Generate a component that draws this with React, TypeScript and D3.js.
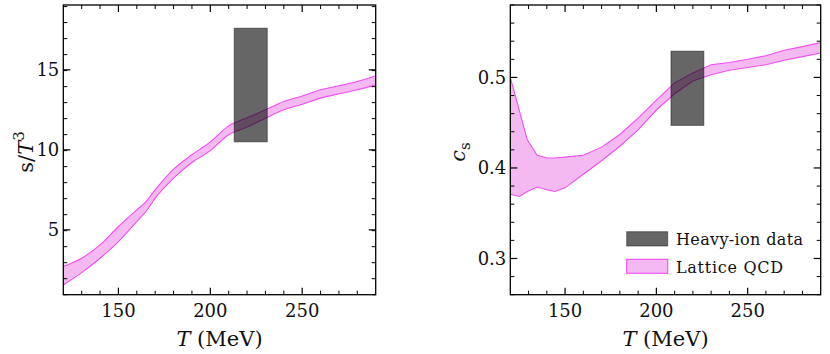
import * as d3 from "d3";

// temperature grid (MeV) for the entropy band
const entropyT = [120, 130, 140, 150, 160, 165, 170, 180, 190, 200, 210, 220, 230, 240, 250, 260, 270, 280, 290];
const entropyUpper = [2.71, 3.23, 4.06, 5.21, 6.25, 6.77, 7.5, 8.79, 9.69, 10.5, 11.5, 12.0, 12.5, 13.02, 13.37, 13.75, 14.0, 14.27, 14.63];
const entropyLower = [1.56, 2.33, 3.23, 4.27, 5.52, 6.15, 6.98, 8.23, 9.21, 9.95, 10.94, 11.42, 11.98, 12.5, 12.85, 13.23, 13.5, 13.75, 14.06];

// speed of sound band
const soundT = [120, 125, 129.3, 134.7, 140, 144.4, 150, 160, 170, 180, 190, 200, 210, 220, 230, 240, 250, 260, 270, 280, 290];
const soundUpper = [0.5, 0.463, 0.431, 0.414, 0.411, 0.411, 0.412, 0.414, 0.423, 0.437, 0.455, 0.475, 0.494, 0.505, 0.514, 0.5165, 0.52, 0.524, 0.53, 0.534, 0.5386];
const soundLower = [0.371, 0.3685, 0.374, 0.379, 0.376, 0.374, 0.378, 0.393, 0.408, 0.424, 0.442, 0.464, 0.482, 0.496, 0.503, 0.508, 0.511, 0.514, 0.519, 0.523, 0.527];

// heavy-ion boxes: [Tmin, Tmax] and [low, high]
const heavyIonEntropyT = [213, 231];
const heavyIonEntropy = [10.5, 17.6];
const heavyIonSoundT = [208, 226];
const heavyIonSound = [0.447, 0.529];

const xTicks = [150, 200, 250];
const entropyTicks = [5, 10, 15];
const soundTicks = [0.3, 0.4, 0.5];
const legendLabels = ["Heavy-ion data", "Lattice QCD"];

const font = "'DejaVu Serif', serif";
const bandFill = "#f5b9f1";
const bandStroke = "#f04ef0";

type PanelProps = {
  left: number;
  right: number;
  yDomain: [number, number];
  temps: number[];
  upper: number[];
  lower: number[];
  boxT: number[];
  boxY: number[];
  yTicks: number[];
  yMinorStep: number;
  yFormat: (v: number) => string;
  curve: d3.CurveFactory;
  children?: React.ReactNode;
};

const top = 5;
const bottom = 294.7;

function Panel(props: PanelProps) {
  const { left, right, yDomain, temps, upper, lower, boxT, boxY, yTicks, yMinorStep, yFormat, curve } = props;
  const x = d3.scaleLinear().domain([120, 290]).range([left, right]);
  const y = d3.scaleLinear().domain(yDomain).range([bottom, top]);

  const rows = temps.map((t, i) => ({ t, hi: upper[i], lo: lower[i] }));
  const area = d3.area<any>().x((d) => x(d.t)).y0((d) => y(d.lo)).y1((d) => y(d.hi)).curve(curve);
  const upLine = d3.line<any>().x((d) => x(d.t)).y((d) => y(d.hi)).curve(curve);
  const loLine = d3.line<any>().x((d) => x(d.t)).y((d) => y(d.lo)).curve(curve);

  const xMinor = d3.range(130, 290, 10).filter((v) => v % 50 !== 0);
  const nMinor = Math.round((yDomain[1] - yDomain[0]) / yMinorStep);
  const yMinor = d3.range(0, nMinor + 1)
    .map((i) => yDomain[0] + i * yMinorStep)
    .filter((v) => !yTicks.some((t) => Math.abs(t - v) < 1e-6));

  const major = 7;
  const minor = 4;

  return (
    <g>
      <defs>
        <clipPath id={`clip-${left}`}>
          <rect x={left} y={top} width={right - left} height={bottom - top} />
        </clipPath>
      </defs>
      <g clipPath={`url(#clip-${left})`}>
        <path d={area(rows) ?? ""} fill={bandFill} stroke="none" />
        <path d={upLine(rows) ?? ""} fill="none" stroke={bandStroke} strokeWidth={1.1} />
        <path d={loLine(rows) ?? ""} fill="none" stroke={bandStroke} strokeWidth={1.1} />
        <rect
          x={x(boxT[0])}
          y={y(boxY[1])}
          width={x(boxT[1]) - x(boxT[0])}
          height={y(boxY[0]) - y(boxY[1])}
          fill="#000"
          fillOpacity={0.6}
          stroke="#000"
          strokeOpacity={0.45}
          strokeWidth={1}
        />
      </g>

      {/* ticks point inward on all four sides */}
      {xTicks.map((v) => (
        <g key={`xM${v}`} stroke="#000" strokeWidth={1.2}>
          <line x1={x(v)} x2={x(v)} y1={bottom} y2={bottom - major} />
          <line x1={x(v)} x2={x(v)} y1={top} y2={top + major} />
        </g>
      ))}
      {xMinor.map((v) => (
        <g key={`xm${v}`} stroke="#000" strokeWidth={1}>
          <line x1={x(v)} x2={x(v)} y1={bottom} y2={bottom - minor} />
          <line x1={x(v)} x2={x(v)} y1={top} y2={top + minor} />
        </g>
      ))}
      {yTicks.map((v) => (
        <g key={`yM${v}`} stroke="#000" strokeWidth={1.2}>
          <line x1={left} x2={left + major} y1={y(v)} y2={y(v)} />
          <line x1={right} x2={right - major} y1={y(v)} y2={y(v)} />
        </g>
      ))}
      {yMinor.map((v, i) => (
        <g key={`ym${i}`} stroke="#000" strokeWidth={1}>
          <line x1={left} x2={left + minor} y1={y(v)} y2={y(v)} />
          <line x1={right} x2={right - minor} y1={y(v)} y2={y(v)} />
        </g>
      ))}

      <rect x={left} y={top} width={right - left} height={bottom - top} fill="none" stroke="#000" strokeWidth={1.3} />

      {xTicks.map((v) => (
        <text key={`xl${v}`} x={x(v)} y={316.7} textAnchor="middle" fontFamily={font} fontSize={18} fill="#111">
          {v}
        </text>
      ))}
      {yTicks.map((v) => (
        <text key={`yl${v}`} x={left - 4} y={y(v) + 6.5} textAnchor="end" fontFamily={font} fontSize={18} fill="#111">
          {yFormat(v)}
        </text>
      ))}

      <text x={(left + right) / 2} y={346} textAnchor="middle" fontFamily={font} fontSize={21} fill="#111">
        <tspan fontStyle="italic">T</tspan>
        <tspan> (MeV)</tspan>
      </text>
      {props.children}
    </g>
  );
}

export default function App() {
  return (
    <svg
      width={830}
      height={354}
      style={{ position: "absolute", left: 0, top: 0, background: "white" }}
    >
      <Panel
        left={63.3}
        right={375.7}
        yDomain={[0.95, 19.05]}
        temps={entropyT}
        upper={entropyUpper}
        lower={entropyLower}
        boxT={heavyIonEntropyT}
        boxY={heavyIonEntropy}
        yTicks={entropyTicks}
        yMinorStep={1}
        yFormat={(v) => String(v)}
        curve={d3.curveMonotoneX}
      >
        <text transform="translate(33,152) rotate(-90)" textAnchor="middle" fontFamily={font} fontSize={21} fill="#111">
          <tspan>s/</tspan>
          <tspan fontStyle="italic">T</tspan>
          <tspan dy={-9} fontSize={15}>3</tspan>
        </text>
      </Panel>
      <Panel
        left={510.3}
        right={820.7}
        yDomain={[0.26, 0.58]}
        temps={soundT}
        upper={soundUpper}
        lower={soundLower}
        boxT={heavyIonSoundT}
        boxY={heavyIonSound}
        yTicks={soundTicks}
        yMinorStep={0.02}
        yFormat={(v) => v.toFixed(1)}
        curve={d3.curveLinear}
      >
        <text transform="translate(465,152) rotate(-90)" textAnchor="middle" fontFamily={font} fontSize={21} fill="#111">
          <tspan fontStyle="italic">c</tspan>
          <tspan dy={5} fontSize={15}>s</tspan>
        </text>
        {/* legend */}
        <rect x={626.7} y={231.7} width={41} height={14.3} fill="#000" fillOpacity={0.6} stroke="#000" strokeOpacity={0.45} strokeWidth={1} />
        <rect x={626.7} y={259.3} width={41} height={14} fill={bandFill} stroke={bandStroke} strokeWidth={1.1} />
        <text x={676} y={245} fontFamily={font} fontSize={16} fill="#111" textLength={127} lengthAdjust="spacing">
          {legendLabels[0]}
        </text>
        <text x={676} y={273} fontFamily={font} fontSize={16} fill="#111" textLength={107} lengthAdjust="spacing">
          {legendLabels[1]}
        </text>
      </Panel>
    </svg>
  );
}
